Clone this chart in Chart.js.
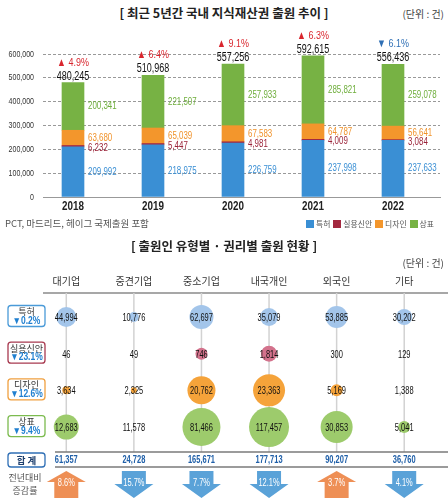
<!DOCTYPE html>
<html>
<head>
<meta charset="utf-8">
<script src="https://cdn.jsdelivr.net/npm/chart.js@4"></script>
<style>
  body { margin: 0; background: #fff; width: 448px; height: 500px; position: relative; overflow: hidden;
         font-family: "Noto Sans CJK KR", sans-serif; }
  .t { position: absolute; white-space: nowrap; }
  .title { left: 0; width: 448px; text-align: center; font-size: 12.5px; font-weight: 700; color: #222; }
  .unit { right: 4px; font-size: 10px; color: #444; }
  .legend { left: 303px; top: 218px; font-size: 7.8px; color: #555; display: flex; align-items: center; }
  .legend span.sq { display: inline-block; width: 8px; height: 8px; margin: 0 2px 0 3px; }
  canvas { position: absolute; left: 0; }
</style>
</head>
<body>
<div class="t title" style="top:3px">[ 최근 5년간 국내 지식재산권 출원 추이 ]</div>
<div class="t unit" style="top:6px">(단위 : 건)</div>
<canvas id="c1" width="448" height="235" style="top:0"></canvas>
<div class="t" style="left:5px;top:216px;font-size:9.5px;color:#555">PCT, 마드리드, 헤이그 국제출원 포함</div>
<div class="t legend">
  <span class="sq" style="background:#3a8fd4"></span>특허
  <span class="sq" style="background:#a3283f"></span>실용신안
  <span class="sq" style="background:#f3962c"></span>디자인
  <span class="sq" style="background:#77b244"></span>상표
</div>
<div class="t title" style="top:236px">[ 출원인 유형별 · 권리별 출원 현황 ]</div>
<div class="t unit" style="top:255px">(단위 : 건)</div>
<canvas id="c2" width="448" height="265" style="top:235px"></canvas>

<script>
// ---- top chart data ----
const years = [2018, 2019, 2020, 2021, 2022];
const patent = [209992, 218975, 226759, 237998, 237633];
const utility = [6232, 5447, 4981, 4009, 3084];
const design = [63680, 65039, 67583, 64787, 56641];
const trademark = [200341, 221507, 257933, 285821, 259078];
const totals = [480245, 510968, 557256, 592615, 556436];
const changes = [4.9, 6.4, 9.1, 6.3, -6.1];
const yTicks = [0, 100000, 200000, 300000, 400000, 500000, 600000];

// ---- bottom chart data ----
const applicantTypes = ['대기업', '중견기업', '중소기업', '내국개인', '외국인', '기타'];
const rightTypes = ['특허', '실용신안', '디자인', '상표'];
const rightChanges = [-0.2, -23.1, -12.6, -9.4];
const patentByType = [44994, 10776, 62697, 35079, 53885, 30202];
const utilityByType = [46, 49, 746, 1814, 300, 129];
const designByType = [3634, 2325, 20762, 23363, 5169, 1388];
const trademarkByType = [12683, 11578, 81466, 117457, 30853, 5041];
const totalByType = [61357, 24728, 165671, 177713, 90207, 36760];
const typeChanges = [8.6, -15.7, -7.7, -12.1, 3.7, -4.1];
// bubble sizes
const patentSize = [10, 5, 12, 9, 11, 8];
const utilitySize = [0, 0, 6, 8, 0, 0];
const designSize = [4, 3, 14, 16, 6, 0];
const trademarkSize = [12.5, 0, 19, 20, 16, 6];

const NUM = '"Liberation Sans", Arial, sans-serif';
const KR = '"Noto Sans CJK KR", sans-serif';
const fmt = v => v.toLocaleString('en-US');

// the original uses a condensed face, squeeze Arial-ish text horizontally
function narrow(ctx, text, x, y, sx) {
  ctx.save();
  ctx.translate(x, y);
  ctx.scale(sx, 1);
  ctx.fillText(text, 0, 0);
  ctx.restore();
}

// ======= TOP: stacked bars =======
const barColors = ['#3a8fd4', '#a3283f', '#f3962c', '#77b244'];
const textColors = ['#3a8fd4', '#9a2238', '#f0922a', '#6fae3c'];

const barLabels = {
  id: 'barLabels',
  afterDraw(chart) {
    const ctx = chart.ctx, xs = chart.scales.x, y = chart.scales.y;
    ctx.save();
    // axis tick labels
    ctx.fillStyle = '#333';
    ctx.font = '9.5px ' + NUM;
    ctx.textAlign = 'right';
    ctx.textBaseline = 'middle';
    y.ticks.forEach(t => narrow(ctx, fmt(t.value), 34, y.getPixelForValue(t.value), 0.74));
    ctx.fillStyle = '#222';
    ctx.font = 'bold 13px ' + NUM;
    ctx.textAlign = 'center';
    xs.ticks.forEach(t => narrow(ctx, String(t.value), xs.getPixelForValue(t.value), 206, 0.76));

    // segment values
    ctx.textAlign = 'left';
    ctx.font = '11px ' + NUM;
    chart.data.datasets.forEach((ds, di) => {
      chart.getDatasetMeta(di).data.forEach((bar, i) => {
        ctx.fillStyle = textColors[di];
        narrow(ctx, fmt(ds.data[i].y), bar.x + bar.width / 2 + 4, (bar.y + bar.base) / 2 + (di === 1 ? 1.5 : 0), 0.72);
      });
    });
    // totals and change
    ctx.textAlign = 'center';
    ctx.textBaseline = 'alphabetic';
    chart.getDatasetMeta(3).data.forEach((bar, i) => {
      const top = y.getPixelForValue(totals[i]);
      ctx.font = '12.5px ' + NUM;
      ctx.fillStyle = '#111';
      narrow(ctx, fmt(totals[i]), bar.x, top - 3, 0.72);
      const up = changes[i] >= 0;
      ctx.font = '11.5px ' + NUM;
      ctx.fillStyle = up ? '#d9262e' : '#2f6fb5';
      narrow(ctx, (up ? '▲ ' : '▼ ') + Math.abs(changes[i]).toFixed(1) + '%', bar.x, top - 17, 0.78);
    });
    ctx.restore();
  }
};

const seriesNames = ['특허', '실용신안', '디자인', '상표'];
const seriesVals = [patent, utility, design, trademark];

new Chart(document.getElementById('c1'), {
  type: 'bar',
  data: {
    datasets: seriesVals.map((vals, k) => ({
      label: seriesNames[k],
      data: years.map((yr, i) => ({ x: yr, y: vals[i] })),
      backgroundColor: barColors[k],
      barThickness: 22
    }))
  },
  options: {
    responsive: false,
    animation: false,
    layout: { padding: { top: 54, right: 8, left: 0, bottom: 0 } },
    plugins: { legend: { display: false }, tooltip: { enabled: false } },
    scales: {
      x: {
        type: 'linear', stacked: true, offset: false, min: 2017.625, max: 2022.5875,
        afterBuildTicks: s => { s.ticks = years.map(v => ({ value: v })); },
        afterFit: s => { s.height = 38; },
        grid: { display: false, offset: false },
        border: { display: true, color: '#999', width: 1 },
        ticks: { display: false }
      },
      y: {
        stacked: true, min: 0, max: 600000,
        afterBuildTicks: s => { s.ticks = yTicks.map(v => ({ value: v })); },
        afterFit: s => { s.width = 43; },
        grid: { color: '#999', drawTicks: false },
        border: { display: false, dash: [3, 2] },
        ticks: { display: false }
      }
    }
  },
  plugins: [barLabels]
});

// ======= BOTTOM: bubble matrix =======
const bubbleColors = ['#a3c5ea', '#d3728c', '#f5a33a', '#9dcb6c'];
const boxColors = ['#4a9ad8', '#a83a50', '#f0a040', '#7cbb4f'];
const rowVals = [patentByType, utilityByType, designByType, trademarkByType];
const rowSizes = [patentSize, utilitySize, designSize, trademarkSize];

function roundBox(ctx, x, y, w, h, r) {
  ctx.beginPath();
  ctx.moveTo(x + r, y);
  ctx.arcTo(x + w, y, x + w, y + h, r);
  ctx.arcTo(x + w, y + h, x, y + h, r);
  ctx.arcTo(x, y + h, x, y, r);
  ctx.arcTo(x, y, x + w, y, r);
  ctx.closePath();
}

function arrow(ctx, cx, top, bottom, up) {
  const headW = 39, shaftW = 24;
  ctx.beginPath();
  if (up) {
    const hb = top + 11;
    ctx.moveTo(cx, top);
    ctx.lineTo(cx + headW / 2, hb); ctx.lineTo(cx + shaftW / 2, hb);
    ctx.lineTo(cx + shaftW / 2, bottom); ctx.lineTo(cx - shaftW / 2, bottom);
    ctx.lineTo(cx - shaftW / 2, hb); ctx.lineTo(cx - headW / 2, hb);
  } else {
    const hb = bottom - 14;
    ctx.moveTo(cx, bottom);
    ctx.lineTo(cx + headW / 2, hb); ctx.lineTo(cx + shaftW / 2, hb);
    ctx.lineTo(cx + shaftW / 2, top); ctx.lineTo(cx - shaftW / 2, top);
    ctx.lineTo(cx - shaftW / 2, hb); ctx.lineTo(cx - headW / 2, hb);
  }
  ctx.closePath();
  ctx.fill();
}

const matrixDeco = {
  id: 'matrixDeco',
  beforeDatasetsDraw(chart) {
    const ctx = chart.ctx, xs = chart.scales.x, area = chart.chartArea;
    ctx.save();
    // column headers
    ctx.font = '10px ' + KR;
    ctx.fillStyle = '#333';
    ctx.textAlign = 'center';
    ctx.textBaseline = 'middle';
    applicantTypes.forEach((t, i) => ctx.fillText(t, xs.getPixelForValue(i), 46));
    // header rule
    ctx.strokeStyle = '#8a8a8a';
    ctx.lineWidth = 1.5;
    ctx.beginPath(); ctx.moveTo(43, area.top); ctx.lineTo(448, area.top); ctx.stroke();
    // column lines
    ctx.strokeStyle = '#d2d2d2';
    ctx.lineWidth = 1.5;
    applicantTypes.forEach((t, i) => {
      const x = xs.getPixelForValue(i);
      ctx.beginPath(); ctx.moveTo(x, area.top); ctx.lineTo(x, area.bottom); ctx.stroke();
    });
    ctx.restore();
  },
  afterDatasetsDraw(chart) {
    const ctx = chart.ctx, xs = chart.scales.x, ys = chart.scales.y, area = chart.chartArea;
    ctx.save();
    ctx.textAlign = 'center';
    ctx.textBaseline = 'middle';
    // bubble values
    ctx.font = '11px ' + NUM;
    ctx.fillStyle = '#111';
    rowVals.forEach((vals, r) => {
      vals.forEach((v, i) => narrow(ctx, fmt(v), xs.getPixelForValue(i), ys.getPixelForValue(r) + 1, 0.68));
    });
    // row label boxes
    rightTypes.forEach((name, r) => {
      const cy = ys.getPixelForValue(r) - 1;
      ctx.fillStyle = '#fff';
      ctx.strokeStyle = boxColors[r];
      ctx.lineWidth = 1.3;
      roundBox(ctx, 8, cy - 10.5, 37, 21, 3);
      ctx.fill(); ctx.stroke();
      ctx.fillStyle = '#333';
      ctx.font = '9px ' + KR;
      ctx.fillText(name, 26.5, cy - 4.5);
      ctx.fillStyle = '#1f7fd0';
      ctx.font = 'bold 10px ' + NUM;
      narrow(ctx, (rightChanges[r] < 0 ? '▼' : '▲') + Math.abs(rightChanges[r]).toFixed(1) + '%', 26.5, cy + 5, 0.85);
    });
    // total rows
    ctx.strokeStyle = '#7a7a7a';
    ctx.lineWidth = 1.5;
    ctx.beginPath(); ctx.moveTo(55, area.bottom); ctx.lineTo(448, area.bottom); ctx.stroke();
    ctx.beginPath(); ctx.moveTo(55, area.bottom + 15); ctx.lineTo(448, area.bottom + 15); ctx.stroke();
    ctx.fillStyle = '#fff';
    ctx.strokeStyle = '#2f6fb5';
    ctx.lineWidth = 1.3;
    roundBox(ctx, 8, area.bottom + 1, 37, 14, 3);
    ctx.fill(); ctx.stroke();
    ctx.fillStyle = '#1d3f6e';
    ctx.font = 'bold 9.5px ' + KR;
    ctx.fillText('합 계', 26.5, area.bottom + 8);
    ctx.fillStyle = '#1f5fa8';
    ctx.font = 'bold 11px ' + NUM;
    totalByType.forEach((v, i) => narrow(ctx, fmt(v), xs.getPixelForValue(i), area.bottom + 8, 0.68));
    // change arrows
    ctx.fillStyle = '#555';
    ctx.font = '9px ' + KR;
    ctx.fillText('전년대비', 25, 243);
    ctx.fillText('증감률', 25, 256);
    typeChanges.forEach((c, i) => {
      const x = xs.getPixelForValue(i);
      const up = c >= 0;
      ctx.fillStyle = up ? '#ee8f55' : '#5aa2d8';
      arrow(ctx, x, 236, 263, up);
      ctx.fillStyle = '#fff';
      ctx.font = '11px ' + NUM;
      narrow(ctx, Math.abs(c).toFixed(1) + '%', x, 248, 0.68);
    });
    ctx.restore();
  }
};

new Chart(document.getElementById('c2'), {
  type: 'bubble',
  data: {
    datasets: rowVals.map((vals, r) => ({
      label: rightTypes[r],
      data: vals.map((v, i) => ({ x: i, y: r, r: rowSizes[r][i], v: v })),
      backgroundColor: bubbleColors[r],
      borderWidth: 0,
      hoverRadius: 0
    }))
  },
  options: {
    responsive: false,
    animation: false,
    layout: { padding: { top: 58, left: 32.5, right: 0, bottom: 48 } },
    plugins: { legend: { display: false }, tooltip: { enabled: false } },
    scales: {
      x: { type: 'linear', min: -0.5, max: 5.352, display: false },
      y: { type: 'linear', reverse: true, min: -0.654, max: 3.68, display: false }
    }
  },
  plugins: [matrixDeco]
});
</script>
</body>
</html>
